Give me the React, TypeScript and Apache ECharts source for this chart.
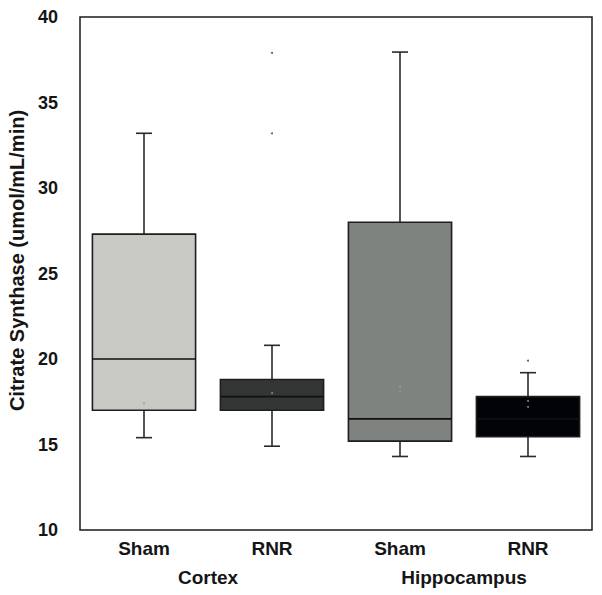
import React, { useEffect, useRef } from "react";
import * as echarts from "echarts";

const categories = ["Sham", "RNR", "Sham", "RNR"];
const groups = ["Cortex", "Hippocampus"];
const lowWhisker = [15.4, 14.9, 14.3, 14.3];
const q1 = [17.0, 17.0, 15.2, 15.45];
const median = [20.0, 17.8, 16.5, 16.5];
const q3 = [27.3, 18.8, 28.0, 17.8];
const highWhisker = [33.2, 20.8, 37.95, 19.2];
const boxColors = ["#c8c9c4", "#333634", "#7f8380", "#020308"];
const outliers: [number, number][] = [
  [1, 37.9],
  [1, 33.2],
  [3, 19.9],
];
const meanDots: [number, number][] = [
  [0, 17.4],
  [1, 18.0],
  [2, 18.4],
  [2, 18.1],
  [3, 17.55],
  [3, 17.2],
];
const yTicks = { min: 10, max: 40, interval: 5 };

const FONT = "'Liberation Sans', Arial, sans-serif";

export default function App() {
  const ref = useRef<HTMLDivElement>(null);
  useEffect(() => {
    if (!ref.current) return;
    const chart = echarts.init(ref.current, undefined, { renderer: "svg" });
    const boxData = categories.map((_, i) => [
      i,
      lowWhisker[i],
      q1[i],
      median[i],
      q3[i],
      highWhisker[i],
    ]);
    chart.setOption({
      animation: false,
      backgroundColor: "#ffffff",
      grid: {
        left: 80,
        top: 17,
        width: 512,
        height: 513,
        containLabel: false,
        outerBoundsMode: "none",
        show: true,
        borderColor: "#1a1a1a",
        borderWidth: 1.5,
        backgroundColor: "transparent",
      },
      xAxis: [
        {
          type: "category",
          data: categories,
          axisLine: { show: false },
          axisTick: { show: false },
          axisLabel: {
            fontFamily: FONT,
            fontWeight: "bold",
            fontSize: 19,
            color: "#151515",
            margin: 9,
          },
          splitLine: { show: false },
        },
        {
          type: "category",
          data: groups,
          position: "bottom",
          offset: 29,
          axisLine: { show: false },
          axisTick: { show: false },
          axisLabel: {
            fontFamily: FONT,
            fontWeight: "bold",
            fontSize: 19,
            color: "#151515",
            margin: 9,
          },
          splitLine: { show: false },
        },
      ],
      yAxis: {
        type: "value",
        min: yTicks.min,
        max: yTicks.max,
        interval: yTicks.interval,
        axisLine: { show: false },
        axisTick: { show: false },
        splitLine: { show: false },
        axisLabel: {
          fontFamily: FONT,
          fontWeight: "bold",
          fontSize: 18,
          color: "#151515",
          margin: 22,
        },
        name: "Citrate Synthase (umol/mL/min)",
        nameLocation: "middle",
        nameGap: 51,
        nameTextStyle: {
          fontFamily: FONT,
          fontWeight: "bold",
          fontSize: 20,
          color: "#151515",
          padding: [0, 0, 0, 26],
        },
      },
      series: [
        {
          type: "custom",
          xAxisIndex: 0,
          data: boxData,
          encode: { x: 0, y: [1, 2, 3, 4, 5] },
          renderItem: (params: any, api: any) => {
            const idx = api.value(0);
            const low = api.coord([idx, api.value(1)]);
            const pq1 = api.coord([idx, api.value(2)]);
            const med = api.coord([idx, api.value(3)]);
            const pq3 = api.coord([idx, api.value(4)]);
            const high = api.coord([idx, api.value(5)]);
            const band = api.size([1, 0])[0];
            const half = band * 0.403;
            const cap = 8;
            const cx = low[0];
            const lineStyle = { stroke: "#2a2a2a", lineWidth: 1.6 };
            return {
              type: "group",
              children: [
                {
                  type: "line",
                  shape: { x1: cx, y1: low[1], x2: cx, y2: pq1[1] },
                  style: lineStyle,
                },
                {
                  type: "line",
                  shape: { x1: cx - cap, y1: low[1], x2: cx + cap, y2: low[1] },
                  style: lineStyle,
                },
                {
                  type: "line",
                  shape: { x1: cx, y1: pq3[1], x2: cx, y2: high[1] },
                  style: lineStyle,
                },
                {
                  type: "line",
                  shape: { x1: cx - cap, y1: high[1], x2: cx + cap, y2: high[1] },
                  style: lineStyle,
                },
                {
                  type: "rect",
                  shape: {
                    x: cx - half,
                    y: pq3[1],
                    width: half * 2,
                    height: pq1[1] - pq3[1],
                  },
                  style: {
                    fill: boxColors[params.dataIndex],
                    stroke: "#1e1e1e",
                    lineWidth: 1.6,
                  },
                },
                {
                  type: "line",
                  shape: { x1: cx - half, y1: med[1], x2: cx + half, y2: med[1] },
                  style: { stroke: "#111", lineWidth: 1.6 },
                },
              ],
            };
          },
        },
        {
          type: "scatter",
          xAxisIndex: 0,
          data: outliers,
          symbol: "circle",
          symbolSize: 2,
          itemStyle: { color: "#333" },
        },
        {
          type: "scatter",
          xAxisIndex: 0,
          data: meanDots,
          symbol: "circle",
          symbolSize: 2,
          itemStyle: { color: "#9a9a9a" },
        },
      ],
    });
    return () => chart.dispose();
  }, []);
  return (
    <div
      ref={ref}
      style={{ position: "absolute", left: 0, top: 0, width: 602, height: 595 }}
    />
  );
}
